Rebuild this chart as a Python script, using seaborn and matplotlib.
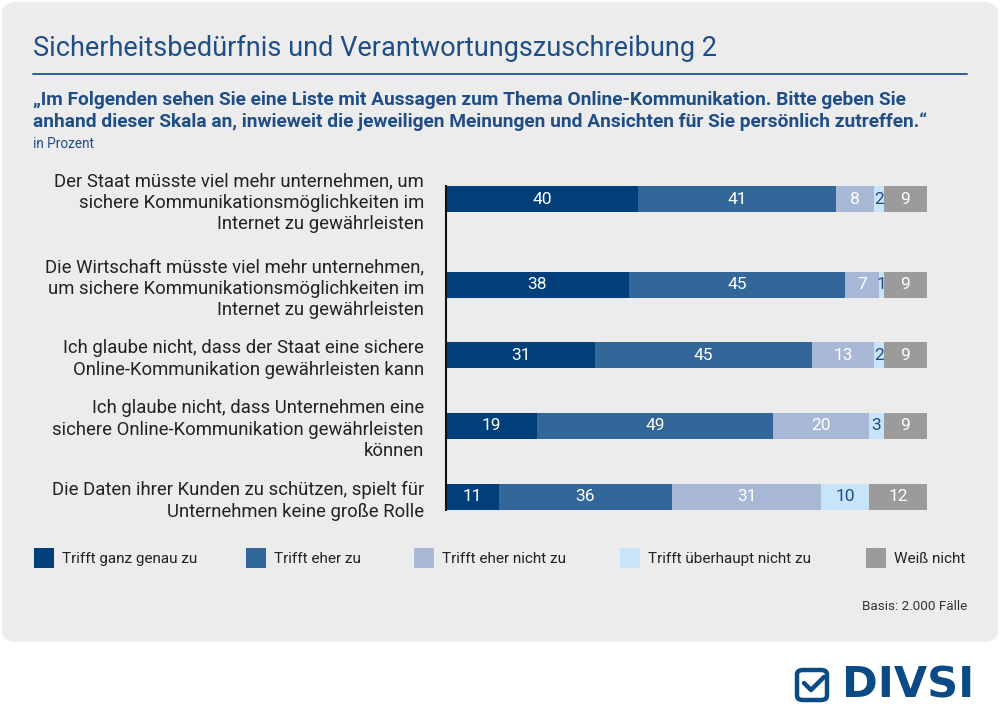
import matplotlib
matplotlib.use('Agg')
import matplotlib.pyplot as plt
from matplotlib.patches import FancyBboxPatch
from matplotlib.lines import Line2D
import pandas as pd
import seaborn as sns

# --- data ---
statements = [
    'Der Staat müsste viel mehr unternehmen, um\nsichere Kommunikationsmöglichkeiten im\nInternet zu gewährleisten',
    'Die Wirtschaft müsste viel mehr unternehmen,\num sichere Kommunikationsmöglichkeiten im\nInternet zu gewährleisten',
    'Ich glaube nicht, dass der Staat eine sichere\nOnline-Kommunikation gewährleisten kann',
    'Ich glaube nicht, dass Unternehmen eine\nsichere Online-Kommunikation gewährleisten\nkönnen',
    'Die Daten ihrer Kunden zu schützen, spielt für\nUnternehmen keine große Rolle',
]
answers = ['Trifft ganz genau zu', 'Trifft eher zu', 'Trifft eher nicht zu',
           'Trifft überhaupt nicht zu', 'Weiß nicht']
ganz_genau = [40, 38, 31, 19, 11]
eher = [41, 45, 45, 49, 36]
eher_nicht = [8, 7, 13, 20, 31]
gar_nicht = [2, 1, 2, 3, 10]
weiss_nicht = [9, 9, 9, 9, 12]

# layout: row positions (rows with 3-line labels need more room)
row_pos = [0, 1.154, 2.094, 3.047, 4]

colors = ['#003f7a', '#336699', '#a9b8d6', '#c8e4f8', '#9b9b9b']
label_colors = ['white', 'white', 'white', '#1f4e87', 'white']

df = pd.DataFrame({'statement': statements, 'pos': row_pos,
                   answers[0]: ganz_genau, answers[1]: eher, answers[2]: eher_nicht,
                   answers[3]: gar_nicht, answers[4]: weiss_nicht})
cum = df[answers].cumsum(axis=1)

sns.set_style('white')
plt.rcParams['font.family'] = ['Roboto', 'DejaVu Sans']

W, H = 1000, 726
fig = plt.figure(figsize=(W / 100, H / 100), dpi=100, facecolor='white')

def fx(px):
    return px / W

def fy(py):
    return 1 - py / H

# grey panel
panel = FancyBboxPatch((0.002, fy(642)), 0.996, fy(2) - fy(642),
                       boxstyle='round,pad=0,rounding_size=0.016',
                       transform=fig.transFigure, facecolor='#ececec',
                       edgecolor='none', zorder=-1)
fig.patches.append(panel)

title_col = '#1f4e87'
fig.text(fx(33), fy(48), 'Sicherheitsbedürfnis und Verantwortungszuschreibung 2',
         fontsize=19.5, color=title_col, va='center')
fig.add_artist(Line2D([fx(33), fx(967)], [fy(74), fy(74)], color='#2d5f95',
                      lw=1.4, transform=fig.transFigure))
fig.text(fx(33), fy(100),
         '„Im Folgenden sehen Sie eine Liste mit Aussagen zum Thema Online-Kommunikation. Bitte geben Sie',
         fontsize=13.8, color=title_col, va='center', fontweight='bold')
fig.text(fx(33), fy(122),
         'anhand dieser Skala an, inwieweit die jeweiligen Meinungen und Ansichten für Sie persönlich zutreffen.“',
         fontsize=13.8, color=title_col, va='center', fontweight='bold')
fig.text(fx(33), fy(144), 'in Prozent', fontsize=9.8, color=title_col, va='center')

# bars (stacked: cumulative totals drawn from the widest down)
ax = fig.add_axes([fx(446), fy(510), fx(927) - fx(446), fy(186) - fy(510)])
ax.set_facecolor('none')
for i in reversed(range(len(answers))):
    sns.barplot(x=cum[answers[i]], y=df['pos'], orient='h', native_scale=True,
                color=colors[i], saturation=1, width=0.35 / 0.94, linewidth=0,
                ax=ax, zorder=2)

for r in range(len(statements)):
    left = 0
    for i, a in enumerate(answers):
        v = df[a][r]
        ax.text(left + v / 2, df['pos'][r], str(v), ha='center', va='center',
                fontsize=12.5, color=label_colors[i], zorder=5)
        left += v

ax.set_xlim(0, 100)
ax.set_ylim(row_pos[-1] + 0.175, -0.175)
ax.set_yticks(row_pos, statements)
ax.set_xlabel('')
ax.set_ylabel('')
ax.set_xticks([])
for s in ['top', 'right', 'bottom']:
    ax.spines[s].set_visible(False)
ax.spines['left'].set_color('#111111')
ax.spines['left'].set_linewidth(1.5)
ax.tick_params(axis='y', length=0, pad=16, labelsize=13.3, labelcolor='#222222')
for t in ax.get_yticklabels():
    t.set_linespacing(1.25)

# legend
leg_x = [34, 246, 414, 620, 866]
for i, a in enumerate(answers):
    fig.patches.append(plt.Rectangle((fx(leg_x[i]), fy(568)), fx(20), fy(548) - fy(568),
                                     transform=fig.transFigure, facecolor=colors[i],
                                     edgecolor='none'))
    fig.text(fx(leg_x[i] + 28), fy(559), a, fontsize=11, color='#222222', va='center')

fig.text(fx(967), fy(607), 'Basis: 2.000 Fälle', fontsize=9.7, color='#333333',
         ha='right', va='center')

# logo
logo_col = '#0a4a85'
fig.text(fx(842), fy(685), 'DIVSI', fontsize=31, fontweight='bold', color=logo_col,
         va='center', ha='left', family='DejaVu Sans')
box = FancyBboxPatch((fx(797), fy(700)), fx(30), fy(670) - fy(700),
                     boxstyle='round,pad=0,rounding_size=0.006',
                     transform=fig.transFigure, facecolor='none',
                     edgecolor=logo_col, lw=3.2)
fig.patches.append(box)
fig.add_artist(Line2D([fx(804), fx(811), fx(824)], [fy(683), fy(690), fy(677)],
                      color=logo_col, lw=3.2, transform=fig.transFigure,
                      solid_capstyle='round'))

fig.savefig('out.png', dpi=100, facecolor='white')
